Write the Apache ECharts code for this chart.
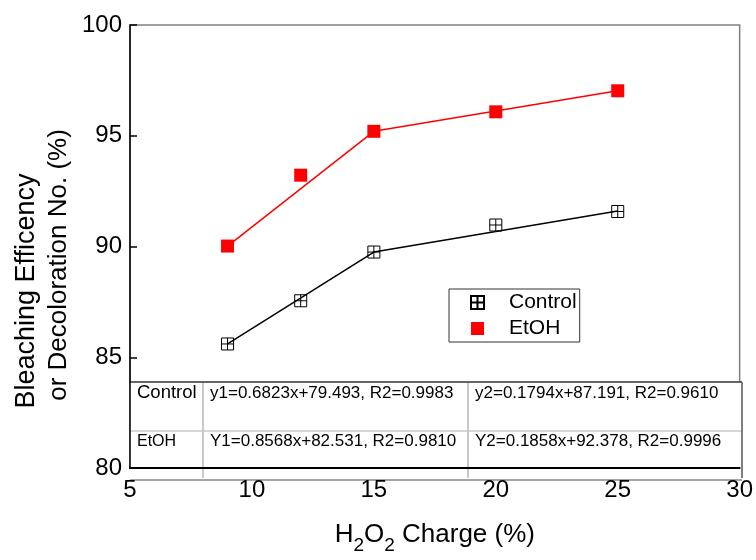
<!DOCTYPE html>
<html>
<head>
<meta charset="utf-8">
<script src="https://cdn.jsdelivr.net/npm/echarts@6/dist/echarts.min.js"></script>
<style>
html,body{margin:0;padding:0;background:#fff;}
#main{width:756px;height:560px;}
</style>
</head>
<body>
<div id="main"></div>
<script>
// ---- data ----
const xValues = [9, 12, 15, 20, 25];
const controlValues = [85.6, 87.55, 89.75, 90.97, 91.58];
const etohValues = [90.02, 93.22, 95.2, 96.08, 97.03];
// fitted lines as drawn (piecewise)
const controlFitX = [9, 15, 25];
const controlFitY = [85.6, 89.75, 91.6];
const etohFitX = [9, 15, 25];
const etohFitY = [90.02, 95.2, 97.03];
const xTicks = {min: 5, max: 30, step: 5};
const yTicks = {min: 80, max: 100, step: 5};
const seriesNames = ['Control', 'EtOH'];
const tableRows = [
  ['Control', 'y1=0.6823x+79.493, R2=0.9983', 'y2=0.1794x+87.191, R2=0.9610'],
  ['EtOH', 'Y1=0.8568x+82.531, R2=0.9810', 'Y2=0.1858x+92.378, R2=0.9996']
];
const yTitleLines = ['Bleaching Efficency', 'or Decoloration No. (%)'];

const FONT = '"Liberation Sans", Arial, sans-serif';
const zip = (xs, ys) => xs.map((x, i) => [x, ys[i]]);

const chart = echarts.init(document.getElementById('main'), null, {renderer: 'canvas'});

const crossBox = 'path://M0,0H12V12H0Z M6,0V12 M0,6H12';
const solidBox = 'path://M0,0H12V12H0Z';

// table geometry (pixels)
const tbl = {left: 130, right: 742, top: 382, mid: 431, bottom: 478, col1: 203, col2: 468};
const colTextX = [137, 210, 475];
const rowTextY = [393, 441.5];
const labelFontSizes = [18.5, 16];

const graphics = [];
graphics.push({type: 'rect', shape: {x: tbl.left, y: tbl.top, width: tbl.right - tbl.left, height: tbl.bottom - tbl.top}, style: {fill: '#fff'}, z: 50});
graphics.push({type: 'line', shape: {x1: tbl.left, y1: tbl.top, x2: tbl.right, y2: tbl.top}, style: {stroke: '#333', lineWidth: 1.5}, z: 52});
graphics.push({type: 'line', shape: {x1: tbl.left, y1: tbl.mid, x2: tbl.right, y2: tbl.mid}, style: {stroke: '#c8c8c8', lineWidth: 1.5}, z: 51});
graphics.push({type: 'line', shape: {x1: tbl.col1, y1: tbl.top, x2: tbl.col1, y2: tbl.bottom}, style: {stroke: '#c8c8c8', lineWidth: 2}, z: 51});
graphics.push({type: 'line', shape: {x1: tbl.col2, y1: tbl.top, x2: tbl.col2, y2: tbl.bottom}, style: {stroke: '#c8c8c8', lineWidth: 2}, z: 51});
graphics.push({type: 'line', shape: {x1: tbl.right, y1: tbl.top, x2: tbl.right, y2: tbl.bottom}, style: {stroke: '#555', lineWidth: 1.5}, z: 52});
graphics.push({type: 'line', shape: {x1: tbl.left, y1: tbl.bottom + 2, x2: tbl.right, y2: tbl.bottom + 2}, style: {stroke: '#888', lineWidth: 1.5}, z: 52});
tableRows.forEach((row, r) => {
  row.forEach((txt, c) => {
    const fs = c === 0 ? labelFontSizes[r] : 17;
    graphics.push({type: 'text', x: colTextX[c], y: rowTextY[r], z: 53,
      style: {text: txt, font: fs + 'px ' + FONT, fill: '#000', textAlign: 'left', textVerticalAlign: 'middle'}});
  });
});
// y-axis title (two lines, rotated)
graphics.push({type: 'text', x: 27, y: 291, rotation: Math.PI / 2, z: 60,
  style: {text: yTitleLines[0], font: '27px ' + FONT, fill: '#000', textAlign: 'center', textVerticalAlign: 'middle'}});
graphics.push({type: 'text', x: 59, y: 265, rotation: Math.PI / 2, z: 60,
  style: {text: yTitleLines[1], font: '26px ' + FONT, fill: '#000', textAlign: 'center', textVerticalAlign: 'middle'}});

const option = {
  backgroundColor: '#fff',
  animation: false,
  textStyle: {fontFamily: FONT},
  grid: {left: 130, right: 14, top: 25, bottom: 82, show: true, borderColor: '#808080', borderWidth: 1.5, backgroundColor: 'transparent'},
  xAxis: {
    type: 'value', min: xTicks.min, max: xTicks.max, interval: xTicks.step,
    axisLine: {lineStyle: {color: '#000', width: 2}},
    axisTick: {show: false},
    splitLine: {show: false},
    axisLabel: {fontSize: 24, color: '#000', margin: 10, fontFamily: FONT},
    name: '{a|H}{s|2}{a|O}{s|2}{a| Charge (%)}',
    nameLocation: 'middle', nameGap: 47,
    nameTextStyle: {
      rich: {
        a: {fontSize: 26, fontFamily: FONT, color: '#000', lineHeight: 40, verticalAlign: 'middle'},
        s: {fontSize: 19, fontFamily: FONT, color: '#000', lineHeight: 19, verticalAlign: 'bottom'}
      }
    },
    z: 60
  },
  yAxis: {
    type: 'value', min: yTicks.min, max: yTicks.max, interval: yTicks.step,
    axisLine: {lineStyle: {color: '#000', width: 1.5}},
    axisTick: {show: true, inside: true, length: 7, lineStyle: {color: '#000', width: 1.5}},
    splitLine: {show: false},
    axisLabel: {fontSize: 24, color: '#000', margin: 8, fontFamily: FONT},
    z: 60
  },
  legend: {
    orient: 'vertical', left: 449, top: 289,
    data: seriesNames,
    itemWidth: 13, itemHeight: 13, itemGap: 5,
    padding: [3, 3, 3, 21],
    borderColor: '#333', borderWidth: 1,
    backgroundColor: '#fff',
    textStyle: {fontSize: 21, color: '#000', fontFamily: FONT, padding: [0, 0, 0, 20]},
    z: 40
  },
  series: [
    {name: 'Control fit', type: 'line', data: zip(controlFitX, controlFitY), showSymbol: false, symbol: 'none',
      lineStyle: {color: '#000', width: 1.5}, z: 2, silent: true},
    {name: 'EtOH fit', type: 'line', data: zip(etohFitX, etohFitY), showSymbol: false, symbol: 'none',
      lineStyle: {color: '#ff0000', width: 1.5}, z: 2, silent: true},
    {name: seriesNames[0], type: 'scatter', data: zip(xValues, controlValues), symbol: crossBox, symbolSize: 12,
      itemStyle: {color: 'rgba(255,255,255,0)', borderColor: '#000', borderWidth: 1, opacity: 1}, z: 3},
    {name: seriesNames[1], type: 'scatter', data: zip(xValues, etohValues), symbol: solidBox, symbolSize: 13,
      itemStyle: {color: '#ff0000', opacity: 1}, z: 3}
  ],
  graphic: graphics
};
chart.setOption(option);
</script>
</body>
</html>
